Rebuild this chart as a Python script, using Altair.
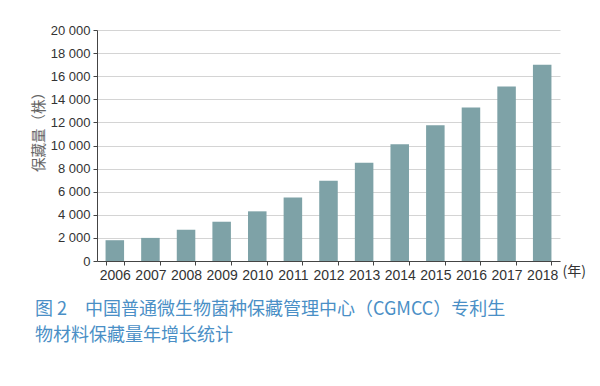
import altair as alt
import pandas as pd

years = ["2006", "2007", "2008", "2009", "2010", "2011", "2012",
         "2013", "2014", "2015", "2016", "2017", "2018"]
values = [1800, 2000, 2700, 3400, 4300, 5500, 6950,
          8500, 10100, 11750, 13300, 15100, 17000]
y_ticks = [0, 2000, 4000, 6000, 8000, 10000, 12000, 14000, 16000, 18000, 20000]

df = pd.DataFrame({"year": years, "value": values})

caption = ["图 2　中国普通微生物菌种保藏管理中心（CGMCC）专利生",
           "物材料保藏量年增长统计"]

chart = alt.Chart(df).mark_bar(color="#7ea2a7", opacity=1).encode(
    x=alt.X("year:N", sort=years,
            scale=alt.Scale(paddingInner=0.48, paddingOuter=0.24),
            axis=alt.Axis(title="(年)", labelAngle=0, labelFontSize=14,
                          labelColor="#333333", labelFont="Liberation Sans Narrow, Liberation Sans",
                          labelPadding=3, tickBand="extent", tickSize=4,
                          tickColor="#444444", domainColor="#444444",
                          titleX=465, titleY=3, titleAlign="left",
                          titleBaseline="top", titleFontSize=14,
                          titleFontWeight="normal", titleColor="#333333",
                          titleFont="Noto Sans CJK SC")),
    y=alt.Y("value:Q", scale=alt.Scale(domain=[0, 20000], nice=False),
            axis=alt.Axis(values=y_ticks, title="保藏量（株）",
                          labelExpr="replace(format(datum.value, ','), ',', ' ')",
                          labelFontSize=13, labelColor="#333333",
                          labelFont="Liberation Sans", labelPadding=3,
                          tickSize=4, tickColor="#444444",
                          domainColor="#444444", gridColor="#d4d4d4",
                          titleX=-51, titleY=98, titleFontSize=14.5,
                          titleFontWeight="normal", titleColor="#666666",
                          titleFont="Noto Sans CJK SC")),
).properties(
    width=463, height=231,
    title=alt.TitleParams(text=caption, orient="bottom", anchor="start",
                          frame="group", dx=-62, offset=19, fontSize=18,
                          lineHeight=26, font="Noto Sans CJK SC",
                          fontWeight="normal", color="#4a8fc6"),
    autosize=alt.AutoSizeParams(type="none"),
    padding={"left": 97, "top": 30, "right": 40, "bottom": 125},
).configure_view(stroke=None)

chart.save("out.html", embed_options={"renderer": "svg", "actions": False})
